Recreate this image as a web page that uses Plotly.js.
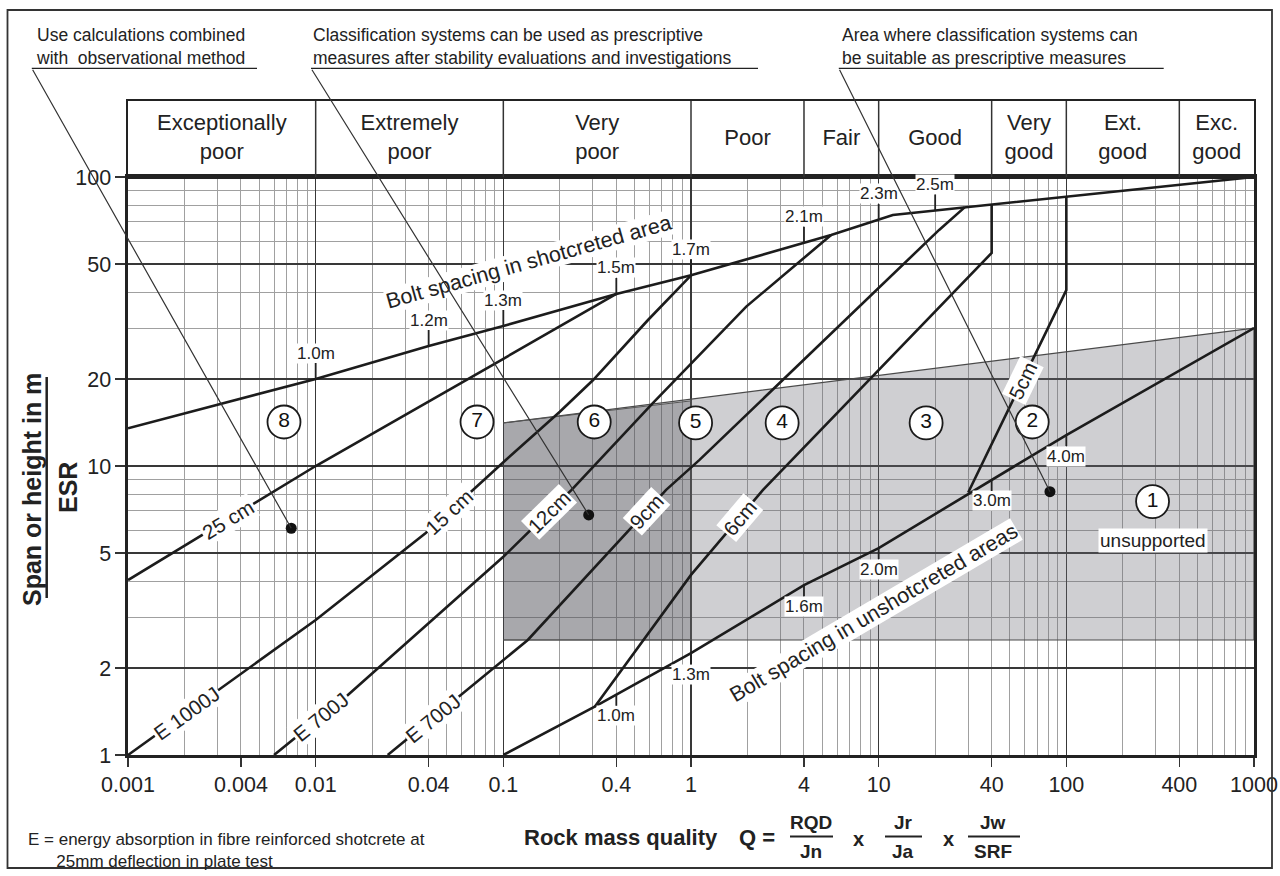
<!DOCTYPE html>
<html><head><meta charset="utf-8">
<script src="https://cdn.plot.ly/plotly-3.0.1.min.js"></script>
<style>html,body{margin:0;padding:0;background:#fff;}#chart{width:1280px;height:876px;}</style>
</head><body><div id="chart"></div>
<script>
// ---------------- DATA ----------------
const classNames = ['Exceptionally<br>poor','Extremely<br>poor','Very<br>poor','Poor','Fair','Good','Very<br>good','Ext.<br>good','Exc.<br>good'];
const classBounds = [0.001,0.01,0.1,1,4,10,40,100,400,1000];

const xTickVals = [0.001,0.004,0.01,0.04,0.1,0.4,1,4,10,40,100,400,1000];
const xTickText = ['0.001','0.004','0.01','0.04','0.1','0.4','1','4','10','40','100','400','1000'];
const yTickVals = [1,2,5,10,20,50,100];
const yTickText = ['1','2','5','10','20','50','100'];

// bolt spacing in shotcreted area
const boltTopQ    = [0.001,0.01,0.04,0.1,0.4,1,5.58,10,11.9,1000];
const boltTopSpan = [13.5,20,26,30.5,39.4,45.7,63,71,73.9,100];
const boltTopTickQ    = [0.01,0.04,0.1,0.4,1,4,10,20];
const boltTopTickText = ['1.0m','1.2m','1.3m','1.5m','1.7m','2.1m','2.3m','2.5m'];

// bolt spacing in unshotcreted areas
const boltLowQ    = [0.1,0.307,1,4,10,40,100,1000];
const boltLowSpan = [1,1.47,2.25,3.87,5.2,8.95,12.8,30];
const boltLowTickQ    = [0.4,1,4,10,40,100];
const boltLowTickText = ['1.0m','1.3m','1.6m','2.0m','3.0m','4.0m'];

// shotcrete thickness boundaries
const sc25Q = [0.001,0.01,0.1,0.4];
const sc25Span = [4.03,10,23.5,39.4];
const sc15Q = [0.001,0.01,0.0386,0.1,0.2,0.3,0.59,1];
const sc15Span = [1,2.93,5.86,10.3,15.4,19.8,32,45.7];
const sc12Q = [0.006,0.0148,0.1,0.231,0.626,1.97,5.58];
const sc12Span = [1,1.61,4.85,8.27,16.5,35.6,63];
const sc9Q = [0.0242,0.0749,0.135,0.737,1.11,21,28.7];
const sc9Span = [1,1.82,2.5,8.27,10.5,65.6,78.5];
const sc6Q = [0.307,1,2.42,40,40];
const sc6Span = [1.47,4.2,8.27,54.6,80.3];
const sc5Q = [30,100,100];
const sc5Span = [8.1,40.6,85.5];

// shaded areas
const lightQ = [0.1,1000,1000,0.1];
const lightSpan = [14.1,30,2.5,2.5];
const darkQ = [0.1,1,1,0.1];
const darkSpan = [14.1,16.8,2.5,2.5];

// support categories
const catNo = ['8','7','6','5','4','3','2','1'];
const catQ = [0.00678,0.0724,0.305,1.058,3.06,17.9,65.8,288];
const catSpan = [14.2,14.2,14.2,14.1,14.1,14.1,14.2,7.53];

// example cases (dots)
const caseQ = [0.00741,0.285,81.8];
const caseSpan = [6.09,6.77,8.15];

// thickness / energy labels
const thickText = ['25 cm','15 cm','12cm','9cm','6cm','5cm','E 1000J','E 700J','E 700J'];
const thickOn   = ['sc25','sc15','sc12','sc9','sc6','sc5','sc15','sc12','sc9'];
const thickQ    = [0.00341,0.0516,0.176,0.578,1.82,58.5,0.00204,0.0107,0.042];

// ---------------- HELPERS ----------------
const FONT = 'Liberation Sans, Arial, Helvetica, sans-serif';
const INK = '#222';
const L10 = Math.log10;
const W=1280,H=876,ML=128,MR=26,MT=101,MB=121;
const plotW = W-ML-MR, plotH = H-MT-MB;
const mainFrac = 578/plotH;
const pxDecX = plotW/6, pxDecY = (plotH*mainFrac)/2;
const px2x = px => (px-ML)/plotW;
const py2y = py => (H-MB-py)/plotH;
const px2lx = px => (px-ML)/pxDecX - 3;
const py2ly = py => (H-MB-py)/pxDecY;

const lines = {
  top:[boltTopQ,boltTopSpan], low:[boltLowQ,boltLowSpan],
  sc25:[sc25Q,sc25Span], sc15:[sc15Q,sc15Span], sc12:[sc12Q,sc12Span],
  sc9:[sc9Q,sc9Span], sc6:[sc6Q,sc6Span], sc5:[sc5Q,sc5Span]
};
function seg(qs,ss,q){
  const lq=L10(q);
  for(let i=0;i<qs.length-1;i++){
    const a=L10(qs[i]), b=L10(qs[i+1]);
    if(b>a && lq>=a && lq<=b){
      const sa=L10(ss[i]), sb=L10(ss[i+1]);
      return {ly: sa+(lq-a)/(b-a)*(sb-sa), slope:(sb-sa)/(b-a)};
    }
  }
  return {ly:L10(ss[ss.length-1]), slope:0};
}
const angleOf = s => -Math.atan(s*pxDecY/pxDecX)*180/Math.PI;

// ---------------- TRACES ----------------
const traces = [];
traces.push({x:lightQ,y:lightSpan,type:'scatter',mode:'lines',fill:'toself',
  fillcolor:'rgba(105,105,115,0.32)',line:{color:'#4a4a4a',width:1.2},hoverinfo:'skip'});
traces.push({x:darkQ,y:darkSpan,type:'scatter',mode:'lines',fill:'toself',
  fillcolor:'rgba(50,50,58,0.25)',line:{color:'#555',width:1},hoverinfo:'skip'});

Object.keys(lines).forEach(k=>{
  traces.push({x:lines[k][0],y:lines[k][1],type:'scatter',mode:'lines',
    line:{color:'#1c1c1c',width:2.6},hoverinfo:'skip'});
});

traces.push({x:catQ,y:catSpan,type:'scatter',mode:'markers+text',text:catNo,
  textposition:'middle center',cliponaxis:false,
  marker:{size:33,color:'#fff',line:{color:'#1a1a1a',width:1.8}},
  textfont:{family:FONT,size:21,color:'#111'},hoverinfo:'skip'});

traces.push({x:caseQ,y:caseSpan,type:'scatter',mode:'markers',
  marker:{size:11,color:'#111'},hoverinfo:'skip'});

// dummy trace for the decade grid overlay axis
traces.push({x:[1],y:[1],xaxis:'x2',yaxis:'y',type:'scatter',mode:'markers',
  marker:{opacity:0},hoverinfo:'skip'});

// header: class dividers and names
const divX=[], divY=[];
classBounds.slice(1,-1).forEach(b=>{divX.push(b,b,null);divY.push(0,1,null);});
traces.push({x:divX,y:divY,xaxis:'x3',yaxis:'y2',type:'scatter',mode:'lines',
  line:{color:'#333',width:1.5},hoverinfo:'skip'});
const classMid = classNames.map((n,i)=>Math.sqrt(classBounds[i]*classBounds[i+1]));
traces.push({x:classMid,y:classNames.map(()=>0.5),xaxis:'x3',yaxis:'y2',type:'scatter',
  mode:'text',text:classNames,textposition:'middle center',cliponaxis:false,
  textfont:{family:FONT,size:22,color:INK},hoverinfo:'skip'});

// ---------------- ANNOTATIONS ----------------
const anns = [];
const A = o => Object.assign({showarrow:false,xanchor:'center',yanchor:'middle',
  font:{family:FONT,size:18.5,color:INK}},o);

// thickness / energy labels on lines
thickText.forEach((t,i)=>{
  const L = lines[thickOn[i]];
  const s = seg(L[0],L[1],thickQ[i]);
  anns.push(A({x:L10(thickQ[i]),y:s.ly,xref:'x',yref:'y',text:t,textangle:angleOf(s.slope),
    bgcolor:'#fff',borderpad:1,font:{family:FONT,size:20.5,color:INK}}));
});

// bolt spacing ticks
boltTopTickQ.forEach((q,i)=>{
  const s=seg(boltTopQ,boltTopSpan,q);
  anns.push({x:L10(q),y:s.ly,xref:'x',yref:'y',text:boltTopTickText[i],showarrow:true,
    arrowhead:0,arrowwidth:1.8,arrowcolor:INK,ax:0,ay:-26,bgcolor:'#fff',borderpad:0,
    font:{family:FONT,size:17,color:INK}});
});
boltLowTickQ.forEach((q,i)=>{
  const s=seg(boltLowQ,boltLowSpan,q);
  anns.push({x:L10(q),y:s.ly,xref:'x',yref:'y',text:boltLowTickText[i],showarrow:true,
    arrowhead:0,arrowwidth:1.8,arrowcolor:INK,ax:0,ay:21,bgcolor:'#fff',borderpad:0,
    font:{family:FONT,size:17,color:INK}});
});

// line captions
anns.push(A({x:px2lx(528.8),y:py2ly(261.7),xref:'x',yref:'y',text:'Bolt spacing in shotcreted area',
  textangle:-15.7,bgcolor:'#fff',borderpad:0,font:{family:FONT,size:21.5,color:INK}}));
anns.push(A({x:px2lx(873.8),y:py2ly(613.3),xref:'x',yref:'y',text:'Bolt spacing in unshotcreted areas',
  textangle:-30.5,bgcolor:'#fff',borderpad:0,font:{family:FONT,size:21.5,color:INK}}));
anns.push(A({x:L10(catQ[7]),y:py2ly(540),xref:'x',yref:'y',text:'unsupported',
  bgcolor:'#fff',borderpad:1,font:{family:FONT,size:19,color:INK}}));

// pointers from notes to example cases
const ptrStart = [[31.8,68.3],[311,68.3],[838.8,68.3]];
caseQ.forEach((q,i)=>{
  anns.push({x:L10(q),y:L10(caseSpan[i]),xref:'x',yref:'y',text:'',showarrow:true,
    arrowhead:0,arrowwidth:1.2,arrowcolor:'#333',axref:'x',ayref:'y',
    ax:px2lx(ptrStart[i][0]),ay:py2ly(ptrStart[i][1]),standoff:0});
});

// notes at top (two lines each)
const notes = [
  ['Use calculations combined<br>with\u00a0 observational method',33.5],
  ['Classification systems can be used as prescriptive<br>measures after stability evaluations and investigations',311],
  ['Area where classification systems can<br>be suitable as prescriptive measures',840]
];
notes.forEach(n=>anns.push(A({x:px2x(n[1]),y:py2y(46),xref:'paper',yref:'paper',text:n[0],
  xanchor:'left',align:'left',font:{family:FONT,size:17.5,color:INK}})));

// bottom-left note
anns.push(A({x:px2x(26),y:py2y(850),xref:'paper',yref:'paper',xanchor:'left',align:'left',
  text:'E = energy absorption in fibre reinforced shotcrete at<br>\u00a0\u00a0\u00a0\u00a0\u00a0 25mm deflection in plate test',
  font:{family:FONT,size:17,color:INK}}));

// y-axis title
anns.push(A({x:px2x(32),y:py2y(490),xref:'paper',yref:'paper',text:'<b>Span or height in m</b>',
  textangle:-90,font:{family:FONT,size:25,color:INK}}));
anns.push(A({x:px2x(68),y:py2y(488),xref:'paper',yref:'paper',text:'<b>ESR</b>',
  textangle:-90,font:{family:FONT,size:25,color:INK}}));

// x-axis formula
const fB = (t,px,py,sz)=>A({x:px2x(px),y:py2y(py),xref:'paper',yref:'paper',text:'<b>'+t+'</b>',
  font:{family:FONT,size:sz,color:INK}});
anns.push(A({x:px2x(522),y:py2y(837),xref:'paper',yref:'paper',xanchor:'left',
  text:'<b>Rock mass quality</b>',font:{family:FONT,size:22,color:INK}}));
anns.push(fB('Q =',757,837,22));
anns.push(fB('RQD',811,822,19)); anns.push(fB('Jn',811,851,19));
anns.push(fB('x',858,839,20));
anns.push(fB('Jr',903,822,19)); anns.push(fB('Ja',903,851,19));
anns.push(fB('x',948,839,20));
anns.push(fB('Jw',993,822,19)); anns.push(fB('SRF',993,851,19));

// ---------------- SHAPES (decoration, paper coords) ----------------
const pl = (x0,y0,x1,y1,w)=>({type:'line',xref:'paper',yref:'paper',x0:px2x(x0),y0:py2y(y0),
  x1:px2x(x1),y1:py2y(y1),line:{color:'#222',width:w}});
const shapes = [
  {type:'rect',xref:'paper',yref:'paper',x0:px2x(7.5),x1:px2x(1272),y0:py2y(868),y1:py2y(10),
   line:{color:'#333',width:1.8}},
  pl(31.8,68.3,257,68.3,1.3), pl(311,68.3,758,68.3,1.3), pl(838.8,68.3,1163.7,68.3,1.3),
  pl(46.7,377,46.7,598,2.5),
  pl(790,836.5,833,836.5,2.2), pl(885,836.5,922,836.5,2.2), pl(968,836.5,1020,836.5,2.2)
];

// ---------------- AXES ----------------
const minorX=[]; for(let d=-3;d<3;d++){[2,3,5,6,7,8,9].forEach(k=>minorX.push(k*Math.pow(10,d)));}
const minorY=[3,4,6,7,8,9,30,40,60,70,80,90];
const decades=[0.001,0.01,0.1,1,10,100,1000];
const tf={family:FONT,size:21.5,color:INK};

const layout = {
  width:W,height:H,margin:{l:ML,r:MR,t:MT,b:MB,pad:0},
  paper_bgcolor:'#fff',plot_bgcolor:'#fff',showlegend:false,hovermode:false,
  xaxis:{type:'log',range:[-3,3],domain:[0,1],anchor:'y',tickmode:'array',tickvals:xTickVals,
    ticktext:xTickText,ticks:'outside',ticklen:9,tickwidth:1.5,tickcolor:'#333',
    showgrid:true,gridcolor:'#a0a0a0',gridwidth:1,showline:true,linecolor:'#222',linewidth:2.6,
    mirror:true,zeroline:false,tickfont:tf,fixedrange:true,
    minor:{tickmode:'array',tickvals:minorX,showgrid:true,gridcolor:'#a0a0a0',gridwidth:1,ticks:''}},
  xaxis2:{type:'log',range:[-3,3],overlaying:'x',anchor:'y',tickmode:'array',tickvals:decades,
    showticklabels:false,ticks:'',showgrid:true,gridcolor:'#383838',gridwidth:1.6,
    showline:false,zeroline:false,fixedrange:true},
  yaxis:{type:'log',range:[0,2],domain:[0,mainFrac],anchor:'x',tickmode:'array',tickvals:yTickVals,
    ticktext:yTickText,ticks:'outside',ticklen:10,tickwidth:1.5,tickcolor:'#333',
    showgrid:true,gridcolor:'#383838',gridwidth:1.6,showline:true,linecolor:'#222',linewidth:2.6,
    mirror:true,zeroline:false,tickfont:tf,fixedrange:true,
    minor:{tickmode:'array',tickvals:minorY,showgrid:true,gridcolor:'#a0a0a0',gridwidth:1,ticks:''}},
  xaxis3:{type:'log',range:[-3,3],domain:[0,1],anchor:'y2',showgrid:false,showticklabels:false,
    ticks:'',showline:true,mirror:true,linecolor:'#222',linewidth:2.2,zeroline:false,fixedrange:true},
  yaxis2:{range:[0,1],domain:[mainFrac,1],anchor:'x3',showgrid:false,showticklabels:false,ticks:'',
    showline:true,mirror:true,linecolor:'#222',linewidth:2.2,zeroline:false,fixedrange:true},
  annotations:anns,shapes:shapes
};

Plotly.newPlot('chart',traces,layout,{staticPlot:true,displayModeBar:false});
</script></body></html>
